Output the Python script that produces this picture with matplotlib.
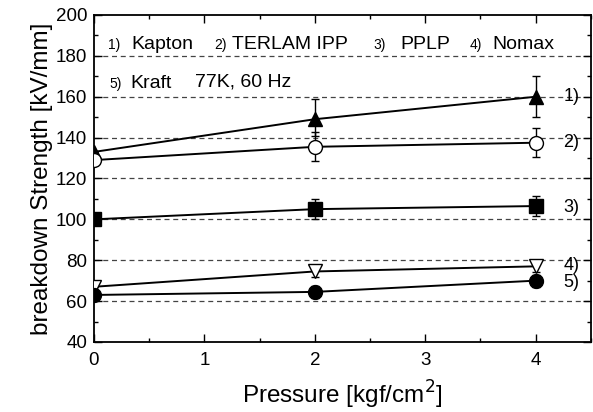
import numpy as np
import matplotlib
matplotlib.use('Agg')
import matplotlib.pyplot as plt
from matplotlib.ticker import MultipleLocator

plt.rcParams['font.family'] = ['Liberation Sans', 'DejaVu Sans']

# Data
pressure = [0, 2, 4]
kapton = [133, 149, 160]
kapton_err = [[0, 8, 10], [0, 10, 10]]
terlam = [129, 135.5, 137.5]
terlam_err = [[0, 7, 7], [0, 7, 7]]
pplp = [100, 105, 106.5]
pplp_err = [[0, 5, 5], [0, 5, 5]]
nomax = [67, 74.5, 77]
nomax_err = [[0, 2.5, 3], [0, 2.5, 3]]
kraft = [63, 64.5, 70]
kraft_err = [[0, 3, 3], [0, 3, 3]]
series = [
    (kapton, kapton_err, '^', 'k', '1)'),
    (terlam, terlam_err, 'o', 'white', '2)'),
    (pplp, pplp_err, 's', 'k', '3)'),
    (nomax, nomax_err, 'v', 'white', '4)'),
    (kraft, kraft_err, 'o', 'k', '5)'),
]
label_y = [160, 137.5, 106, 77.5, 69]

fig = plt.figure(figsize=(5.93, 4.12), dpi=100)
ax = fig.add_axes([0.1585, 0.170, 0.838, 0.7936])

for y in range(60, 200, 20):
    ax.axhline(y, color='#444444', ls=(0, (4, 3)), lw=0.9, zorder=0)

for (vals, err, m, fc, lab), ly in zip(series, label_y):
    ax.errorbar(pressure, vals, yerr=err, color='k', lw=1.4, marker=m,
                mfc=fc, mec='k', ms=10, capsize=3, elinewidth=1.0,
                capthick=1.0, zorder=3)
    ax.text(4.25, ly, lab, fontsize=13, va='center', ha='left')

# header text: (x, y, text, size)
header = [
    (0.127, 185.5, '1)', 10), (0.335, 185.8, 'Kapton', 14),
    (1.087, 185.5, '2)', 10), (1.25, 185.8, 'TERLAM IPP', 14),
    (2.527, 185.5, '3)', 10), (2.77, 185.8, 'PPLP', 14),
    (3.405, 185.5, '4)', 10), (3.605, 185.8, 'Nomax', 14),
    (0.136, 166.2, '5)', 10), (0.326, 166.5, 'Kraft', 14),
    (0.915, 167.0, '77K, 60 Hz', 14),
]
for x, y, t, s in header:
    ax.text(x, y, t, fontsize=s, va='center', ha='left')

ax.set_xlim(0, 4.5)
ax.set_ylim(40, 200)
ax.xaxis.set_major_locator(MultipleLocator(1))
ax.xaxis.set_minor_locator(MultipleLocator(0.5))
ax.yaxis.set_major_locator(MultipleLocator(20))
ax.yaxis.set_minor_locator(MultipleLocator(10))
ax.tick_params(which='both', direction='in', top=True, right=True, labelsize=13.5, width=1)
ax.tick_params(which='major', length=6)
ax.tick_params(which='minor', length=3)
ax.tick_params(axis='x', pad=7)
ax.tick_params(axis='y', pad=5)
for s in ax.spines.values():
    s.set_linewidth(1.3)

ax.set_xlabel('Pressure [kgf/cm$^2$]', fontsize=17.5, labelpad=7)
ax.set_ylabel('breakdown Strength [kV/mm]', fontsize=17.5, labelpad=2)

fig.savefig('out.png', dpi=100)
